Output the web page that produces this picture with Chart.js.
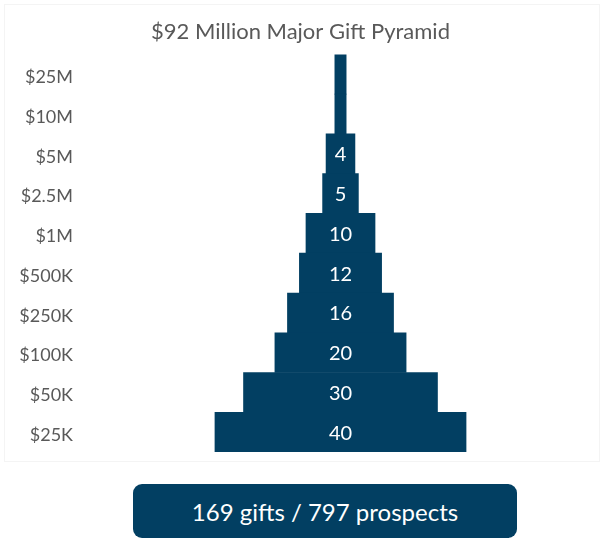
<!DOCTYPE html>
<html>
<head>
<meta charset="utf-8">
<script src="https://cdn.jsdelivr.net/npm/chart.js@4.4.1/dist/chart.umd.min.js"></script>
<style>
    body { margin: 0; background: #ffffff; font-family: Lato, "Open Sans", sans-serif; }
    .frame { position: absolute; left: 4px; top: 4px; width: 594px; height: 456px; border: 1px solid #f4f4f4; }
    .chart-wrap { position: absolute; left: 0; top: 0; width: 603px; height: 470px; }
    .summary {
        position: absolute; left: 133px; top: 484px; width: 384px; height: 54px;
        background: #023f62; border-radius: 9px; color: #ffffff;
        font-size: 24px; line-height: 56px; text-align: center;
    }
</style>
</head>
<body>
<div class="frame"></div>
<div class="chart-wrap"><canvas id="pyramid"></canvas></div>
<div class="summary">169 gifts / 797 prospects</div>

<script>
// gift levels, top of pyramid first
const tiers = ['$25M', '$10M', '$5M', '$2.5M', '$1M', '$500K', '$250K', '$100K', '$50K', '$25K'];
// number of gifts shown inside each bar (top two have no label)
const gifts = [null, null, 4, 5, 10, 12, 16, 20, 30, 40];
// bar width as drawn, in gift units
const barSize = [1.8, 1.8, 4.6, 5.7, 11, 13.1, 16.9, 20.9, 30.9, 40];

const navy = '#023f62';

// write the gift count in the middle of each bar
const barLabels = {
    id: 'barLabels',
    afterDatasetsDraw(chart) {
        const ctx = chart.ctx;
        const meta = chart.getDatasetMeta(0);
        ctx.save();
        ctx.fillStyle = '#ffffff';
        ctx.font = '20px Lato, "Open Sans", sans-serif';
        ctx.textAlign = 'center';
        ctx.textBaseline = 'middle';
        meta.data.forEach((bar, i) => {
            if (gifts[i] == null) return;
            ctx.fillText(String(gifts[i]), (bar.x + bar.base) / 2, bar.y + 1);
        });
        ctx.restore();
    }
};

new Chart(document.getElementById('pyramid'), {
    type: 'bar',
    data: {
        labels: tiers,
        datasets: [{
            data: barSize.map(w => [-w / 2, w / 2]),
            backgroundColor: navy,
            borderWidth: 0,
            borderSkipped: false,
            categoryPercentage: 1,
            barPercentage: 1
        }]
    },
    options: {
        indexAxis: 'y',
        responsive: true,
        maintainAspectRatio: false,
        animation: false,
        layout: { padding: { left: 0, right: 2, top: 0, bottom: 18 } },
        plugins: {
            legend: { display: false },
            tooltip: { enabled: false },
            title: {
                display: true,
                text: '$92 Million Major Gift Pyramid',
                color: '#595959',
                font: { family: 'Lato, "Open Sans", sans-serif', size: 22, weight: 'normal', lineHeight: 1.2 },
                padding: { top: 19, bottom: 9 }
            }
        },
        scales: {
            x: { display: false, min: -41.5, max: 41.5 },
            y: {
                afterFit: (scale) => { scale.width = 80; },
                grid: { display: false, drawTicks: false },
                border: { display: false },
                ticks: {
                    color: '#595959',
                    padding: 7,
                    labelOffset: 3,
                    font: { family: 'Lato, "Open Sans", sans-serif', size: 18 }
                }
            }
        }
    },
    plugins: [barLabels]
});
</script>
</body>
</html>
